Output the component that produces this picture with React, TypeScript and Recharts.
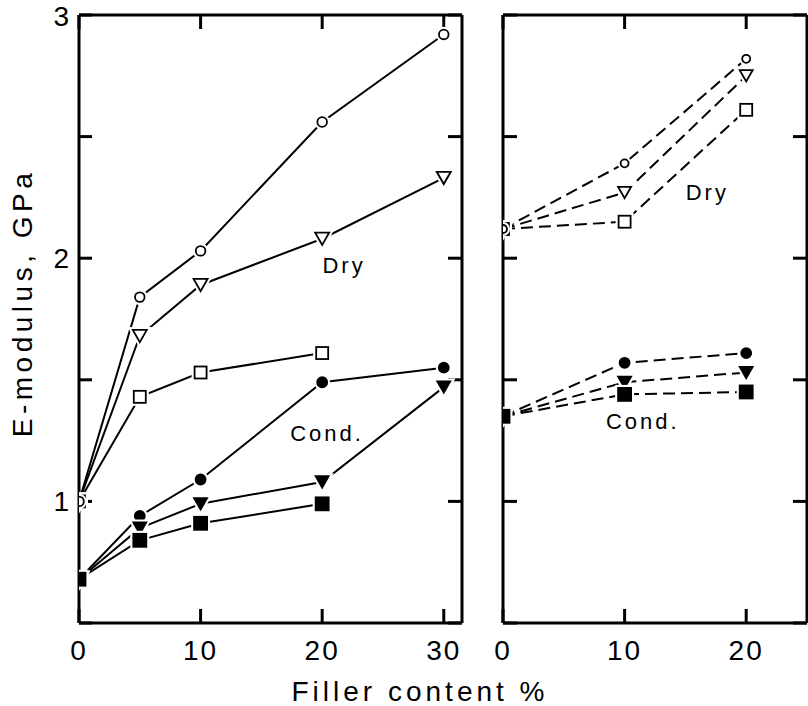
import React from "react";
import {
  LineChart,
  Line,
  XAxis,
  YAxis,
  ReferenceDot,
  Label,
} from "recharts";

// filler content, %
const leftX = [0, 5, 10, 20, 30];
const rightX = [0, 10, 20];

// E-modulus (GPa), left panel
const leftDryCircle = [1.0, 1.84, 2.03, 2.56, 2.92];
const leftDryTri = [1.0, 1.68, 1.89, 2.08, 2.33];
const leftDrySquare = [1.0, 1.43, 1.53, 1.61, null];
const leftCondCircle = [0.68, 0.94, 1.09, 1.49, 1.55];
const leftCondTri = [0.68, 0.89, 0.99, 1.08, 1.47];
const leftCondSquare = [0.68, 0.84, 0.91, 0.99, null];

// E-modulus (GPa), right panel
const rightDryCircle = [2.12, 2.39, 2.82];
const rightDryTri = [2.12, 2.27, 2.75];
const rightDrySquare = [2.12, 2.15, 2.61];
const rightCondCircle = [1.35, 1.57, 1.61];
const rightCondTri = [1.35, 1.49, 1.53];
const rightCondSquare = [1.35, 1.44, 1.45];

const yTicks = [0.5, 1, 1.5, 2, 2.5, 3];
const leftXTicks = [0, 10, 20, 30];
const rightXTicks = [0, 10, 20];

// annotation anchors [x, y, text]
const leftNotes: [number, number, string][] = [
  [21.8, 1.97, "Dry"],
  [20.4, 1.28, "Cond."],
];
const rightNotes: [number, number, string][] = [
  [16.8, 2.27, "Dry"],
  [11.5, 1.33, "Cond."],
];

const FONT = "'Liberation Sans', Arial, sans-serif";

const leftData = leftX.map((x, i) => ({
  x,
  dc: leftDryCircle[i],
  dt: leftDryTri[i],
  ds: leftDrySquare[i],
  cc: leftCondCircle[i],
  ct: leftCondTri[i],
  cs: leftCondSquare[i],
}));

const rightData = rightX.map((x, i) => ({
  x,
  dc: rightDryCircle[i],
  dt: rightDryTri[i],
  ds: rightDrySquare[i],
  cc: rightCondCircle[i],
  ct: rightCondTri[i],
  cs: rightCondSquare[i],
}));

type Kind = "circle" | "tri" | "square";

function shape(kind: Kind, cx: number, cy: number, s: number, props: any) {
  if (kind === "circle") return <circle cx={cx} cy={cy} r={s} {...props} />;
  if (kind === "square")
    return <rect x={cx - s} y={cy - s} width={2 * s} height={2 * s} {...props} />;
  const h = s * 1.75;
  const pts = `${cx - s},${cy - h / 2} ${cx + s},${cy - h / 2} ${cx},${cy + h / 2}`;
  return <polygon points={pts} {...props} />;
}

function marker(kind: Kind, size: number, filled: boolean) {
  return (p: any) => {
    const key = p.key ?? `m-${p.index}`;
    if (p.cx == null || p.cy == null || p.value == null) return <g key={key} />;
    return (
      <g key={key}>
        {shape(kind, p.cx, p.cy, size, { fill: "none", stroke: "#fff", strokeWidth: 6 })}
        {shape(kind, p.cx, p.cy, size, {
          fill: filled ? "#000" : "#fff",
          stroke: "#000",
          strokeWidth: 1.8,
        })}
      </g>
    );
  };
}

const emptyTick = () => <g />;

const tickStyle = { fontSize: 28, fill: "#000", fontFamily: FONT, letterSpacing: 2 };
const axisStroke = { stroke: "#000", strokeWidth: 3 };

function note(n: [number, number, string], i: number) {
  return (
    <ReferenceDot
      key={i}
      x={n[0]}
      y={n[1]}
      r={0}
      fill="none"
      stroke="none"
      ifOverflow="visible"
      label={{
        value: n[2],
        position: "center",
        fontSize: 22,
        fill: "#000",
        fontFamily: FONT,
        style: { letterSpacing: 3 },
      }}
    />
  );
}

function series(dash?: string, small = false) {
  const c = small ? 4 : 4.8;
  const t = small ? 6.5 : 7;
  const sq = 6;
  const common = {
    type: "linear" as const,
    stroke: "#000",
    strokeWidth: 2,
    strokeDasharray: dash,
    isAnimationActive: false,
    activeDot: false as const,
  };
  return [
    <Line key="dt" dataKey="dt" {...common} dot={marker("tri", t, false)} />,
    <Line key="ds" dataKey="ds" {...common} dot={marker("square", sq, false)} />,
    <Line key="dc" dataKey="dc" {...common} dot={marker("circle", c, false)} />,
    <Line key="cc" dataKey="cc" {...common} dot={marker("circle", 5, true)} />,
    <Line key="ct" dataKey="ct" {...common} dot={marker("tri", 6.5, true)} />,
    <Line key="cs" dataKey="cs" {...common} dot={marker("square", 6.5, true)} />,
  ];
}

const yLabel = (props: any) => {
  const vb = props.viewBox || { x: 0, y: 15, width: 79, height: 608 };
  const x = vb.x + 22;
  const y = vb.y + vb.height / 2 - 16;
  return (
    <text
      x={x}
      y={y}
      transform={`rotate(-90, ${x}, ${y})`}
      textAnchor="middle"
      dominantBaseline="central"
      fontSize={28}
      fontFamily={FONT}
      fill="#000"
      style={{ letterSpacing: 4.5 }}
    >
      E-modulus, GPa
    </text>
  );
};

export default function App() {
  return (
    <div
      style={{
        position: "absolute",
        left: 0,
        top: 0,
        width: 808,
        height: 706,
        overflow: "hidden",
        background: "#fff",
        fontFamily: FONT,
      }}
    >
      <div style={{ position: "absolute", left: 0, top: 0 }}>
        <LineChart
          width={480}
          height={706}
          data={leftData}
          margin={{ top: 14, right: 17, bottom: 43, left: 0 }}
        >
          <XAxis
            dataKey="x"
            type="number"
            domain={[0, 31.5]}
            ticks={leftXTicks}
            allowDataOverflow
            height={40}
            axisLine={axisStroke}
            tickLine={axisStroke}
            tickSize={-14}
            tickMargin={31}
            tick={tickStyle}
          />
          <XAxis
            xAxisId="top"
            dataKey="x"
            orientation="top"
            type="number"
            domain={[0, 31.5]}
            ticks={leftXTicks}
            allowDataOverflow
            height={1}
            axisLine={axisStroke}
            tickLine={axisStroke}
            tickSize={-14}
            tick={emptyTick}
          />
          <YAxis
            type="number"
            domain={[0.5, 3]}
            ticks={yTicks}
            allowDataOverflow
            width={79}
            axisLine={axisStroke}
            tickLine={axisStroke}
            tickSize={-13}
            tickMargin={21}
            tick={tickStyle}
            tickFormatter={(v: number) => (Number.isInteger(v) ? String(v) : "")}
          >
            <Label content={yLabel} />
          </YAxis>
          <YAxis
            yAxisId="r"
            orientation="right"
            type="number"
            domain={[0.5, 3]}
            ticks={yTicks}
            allowDataOverflow
            width={1}
            axisLine={axisStroke}
            tickLine={axisStroke}
            tickSize={-14}
            tick={emptyTick}
          />
          {series()}
          {leftNotes.map(note)}
        </LineChart>
      </div>

      <div style={{ position: "absolute", left: 480, top: 0 }}>
        <LineChart
          width={340}
          height={706}
          data={rightData}
          margin={{ top: 14, right: 12, bottom: 43, left: 0 }}
        >
          <XAxis
            dataKey="x"
            type="number"
            domain={[0, 25]}
            ticks={rightXTicks}
            allowDataOverflow
            height={40}
            axisLine={axisStroke}
            tickLine={axisStroke}
            tickSize={-14}
            tickMargin={31}
            tick={tickStyle}
          />
          <XAxis
            xAxisId="top"
            dataKey="x"
            orientation="top"
            type="number"
            domain={[0, 25]}
            ticks={rightXTicks}
            allowDataOverflow
            height={1}
            axisLine={axisStroke}
            tickLine={axisStroke}
            tickSize={-14}
            tick={emptyTick}
          />
          <YAxis
            type="number"
            domain={[0.5, 3]}
            ticks={yTicks}
            allowDataOverflow
            width={23}
            axisLine={axisStroke}
            tickLine={axisStroke}
            tickSize={-14}
            tick={emptyTick}
          />
          <YAxis
            yAxisId="r"
            orientation="right"
            type="number"
            domain={[0.5, 3]}
            ticks={yTicks}
            allowDataOverflow
            width={1}
            axisLine={axisStroke}
            tickLine={axisStroke}
            tickSize={-14}
            tick={emptyTick}
          />
          {series("12 6", true)}
          {rightNotes.map(note)}
        </LineChart>
      </div>

      <div
        style={{
          position: "absolute",
          left: 220,
          width: 400,
          top: 680,
          textAlign: "center",
          fontSize: 28,
          lineHeight: "24px",
          letterSpacing: 4,
          color: "#000",
          whiteSpace: "nowrap",
        }}
      >
        Filler content %
      </div>
    </div>
  );
}
